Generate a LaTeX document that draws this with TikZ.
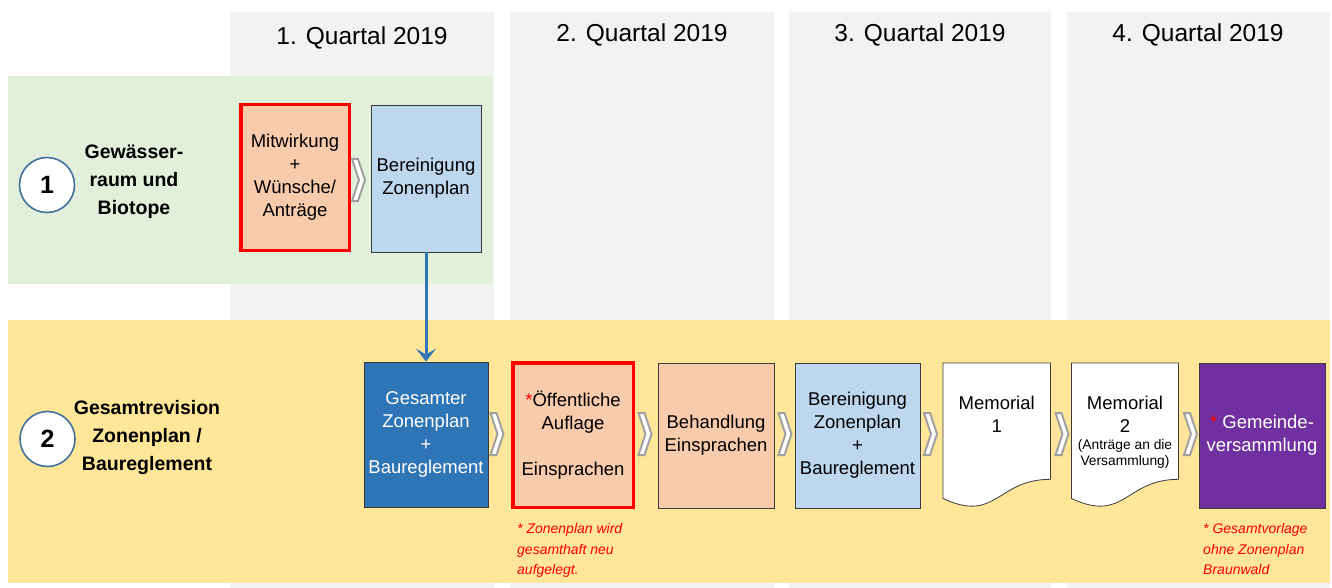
\documentclass[tikz,border=0pt]{standalone}
\usepackage{fontspec}
\setmainfont{Liberation Sans}
\usetikzlibrary{arrows.meta}
\definecolor{colgray}{HTML}{F2F2F2}
\definecolor{bandgreen}{HTML}{E2EFDA}
\definecolor{bandyellow}{HTML}{FFE699}
\definecolor{peach}{HTML}{F8CBAD}
\definecolor{lightblue}{HTML}{BDD7EE}
\definecolor{midblue}{HTML}{2E75B6}
\definecolor{purple}{HTML}{7030A0}
\definecolor{circblue}{HTML}{41719C}
\definecolor{chevgray}{HTML}{A0A0A0}
\definecolor{boxline}{HTML}{3A3A3A}
\newcommand\mychev[2]{\draw[chev] (#1,#2-21) -- ++(6,0) -- ++(7,21) -- ++(-7,21) -- ++(-6,0) -- ++(7,-21) -- cycle;}
\begin{document}
\begin{tikzpicture}[x=1pt,y=-1pt,
  qlabel/.style={font=\fontsize{24.5}{30}\selectfont, inner sep=0pt},
  circ/.style={circle, draw=circblue, line width=1.6pt, fill=white, minimum size=55pt, inner sep=0pt, font=\fontsize{25}{30}\selectfont\bfseries},
  bandlabel/.style={align=center, font=\fontsize{19.5}{28}\selectfont\bfseries, inner sep=0pt},
  box/.style={draw=boxline, line width=0.8pt, align=center, inner sep=0pt, font=\fontsize{18.5}{23}\selectfont},
  redbox/.style={box, draw=red, line width=3.5pt},
  docline/.style={draw=boxline, line width=0.8pt, fill=white},
  doctext/.style={align=center, inner sep=0pt, font=\fontsize{18.5}{23}\selectfont},
  note/.style={align=left, inner sep=0pt, text=red, font=\fontsize{14}{20.5}\selectfont\itshape},
  chev/.style={draw=chevgray, line width=2pt, fill=white, line join=miter},
  link/.style={draw=midblue, line width=3pt, -{Stealth[length=13pt,width=20pt,inset=6pt]}}
]
\useasboundingbox (0,0) rectangle (1332,588);
\fill[white] (0,0) rectangle (1332,588);
% quarter columns
\foreach \a/\b in {230/494,510/774,789/1051,1067/1330}
  \fill[colgray] (\a,12) rectangle (\b,588);
% bands
\fill[bandgreen] (8,76) rectangle (493,284);
\fill[bandyellow] (8,320) rectangle (1330,583);
% headers
\node[qlabel] (q1) at (362,38) {1. Quartal 2019};
\node[qlabel] (q2) at (642,35) {2. Quartal 2019};
\node[qlabel] (q3) at (920,35) {3. Quartal 2019};
\node[qlabel] (q4) at (1198,35) {4. Quartal 2019};
% row labels
\node[circ] (c1) at (47,185) {1};
\node[bandlabel] (l1) at (134,182) {Gewässer-\\raum und\\Biotope};
\node[circ] (c2) at (47.5,439) {2};
\node[bandlabel] (l2) at (147,437) {Gesamtrevision\\Zonenplan /\\Baureglement};
% row 1 boxes
\node[redbox, fill=peach, minimum width=108.5pt, minimum height=145.5pt] (A) at (295,177.5) {Mitwirkung\\+\\Wünsche/\\Anträge};
\node[box, fill=lightblue, minimum width=110pt, minimum height=147pt] (B) at (426,178.5) {Bereinigung\\Zonenplan};
\mychev{352}{180}
% row 2 boxes
\node[box, fill=midblue, text=white, minimum width=124pt, minimum height=145pt] (C) at (426,434.5) {Gesamter\\Zonenplan\\+\\Baureglement};
\mychev{490.5}{434}
\node[redbox, fill=peach, minimum width=120.5pt, minimum height=144.5pt] (D) at (573,435) {{\color{red}*}Öffentliche\\Auflage\\[23pt]Einsprachen};
\mychev{638.5}{434}
\node[box, fill=peach, minimum width=116pt, minimum height=145pt] (E) at (716,435.5) {Behandlung\\Einsprachen};
\mychev{778.5}{434}
\node[box, fill=lightblue, minimum width=125pt, minimum height=145pt] (F) at (857.5,435.5) {Bereinigung\\Zonenplan\\+\\Baureglement};
\mychev{924}{434}
% document G
\draw[docline] (943,363) -- (1050.5,363) -- (1050.5,479.3) .. controls (996.7,479.3) and (996.7,523.5) .. (943,498.5) -- cycle;
\node[doctext] (G) at (996.7,414) {Memorial\\1};
\mychev{1055.5}{434}
% document H
\draw[docline] (1071.5,363) -- (1178.5,363) -- (1178.5,479.3) .. controls (1125,479.3) and (1125,523.5) .. (1071.5,498.5) -- cycle;
\node[doctext] (H) at (1125,432) {Memorial\\2\\[-5.5pt]\fontsize{13.8}{16}\selectfont(Anträge an die\\[-7pt]\fontsize{13.8}{16}\selectfont Versammlung)};
\mychev{1184}{434}
\node[box, fill=purple, text=white, minimum width=126pt, minimum height=145pt] (I) at (1262,435.5) {{\color{red}*} Gemeinde-\\versammlung};
% arrow
\draw[link] (B.south) -- (C.north);
% notes
\node[note, anchor=north west] (n1) at (517,523.5) {* Zonenplan wird\\gesamthaft neu\\aufgelegt.};
\node[note, anchor=north west] (n2) at (1203,523.5) {* Gesamtvorlage\\ohne Zonenplan\\Braunwald};
\end{tikzpicture}
\end{document}
